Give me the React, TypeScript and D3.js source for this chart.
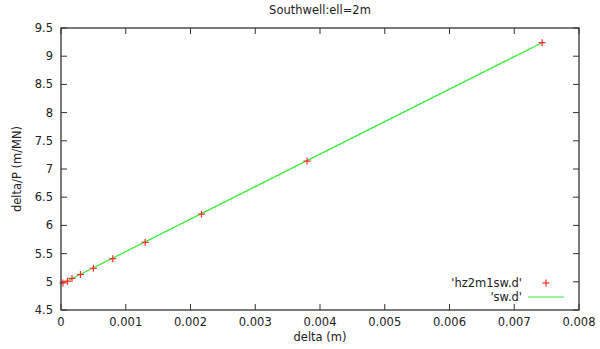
import React from 'react';
import * as d3 from 'd3';

// measured points (hz2m1sw.d)
const deltaVals = [0.00003, 0.0001, 0.00017, 0.0003, 0.0005, 0.0008, 0.0013, 0.00217, 0.0038, 0.00743];
const ratioVals = [4.98, 5.01, 5.06, 5.13, 5.24, 5.41, 5.7, 6.2, 7.14, 9.24];

// fitted line (sw.d)
const lineDelta = [0, 0.00743];
const lineRatio = [4.96, 9.24];

const xTicks = [0, 0.001, 0.002, 0.003, 0.004, 0.005, 0.006, 0.007, 0.008];
const yTicks = [4.5, 5, 5.5, 6, 6.5, 7, 7.5, 8, 8.5, 9, 9.5];

const W = 600;
const H = 349;
const margin = { top: 28, right: 21, bottom: 39, left: 61 };
const FONT = '"DejaVu Sans", sans-serif';

export default function App() {
  const x = d3.scaleLinear().domain([0, 0.008]).range([margin.left, W - margin.right]);
  const y = d3.scaleLinear().domain([4.5, 9.5]).range([H - margin.bottom, margin.top]);
  const x0 = x.range()[0], x1 = x.range()[1];
  const y0 = y.range()[0], y1 = y.range()[1];
  const tick = 6;

  const points = deltaVals.map((d, i) => ({ d, r: ratioVals[i] }));
  const fit = lineDelta.map((d, i) => ({ d, r: lineRatio[i] }));
  const line = d3.line<{ d: number; r: number }>().x(p => x(p.d)).y(p => y(p.r));

  const axisColor = '#333';
  const red = '#ff2a2a';
  const green = '#33ee33';
  const plus = (cx: number, cy: number, s: number, key?: number) => (
    <g key={key} stroke={red} strokeWidth={1.2}>
      <line x1={cx - s} x2={cx + s} y1={cy} y2={cy} />
      <line x1={cx} x2={cx} y1={cy - s} y2={cy + s} />
    </g>
  );

  return (
    <svg width={W} height={H} style={{ position: 'absolute', left: 0, top: 0, background: '#fff' }}
      fontFamily={FONT} fontSize={11.5} fill="#222">
      <rect width={W} height={H} fill="#fff" />
      <text x={(x0 + x1) / 2} y={14} textAnchor="middle">Southwell:ell=2m</text>

      {/* ticks, mirrored on all four sides */}
      <g stroke={axisColor} strokeWidth={1}>
        {xTicks.map(t => (
          <g key={'xt' + t}>
            <line x1={x(t)} x2={x(t)} y1={y0} y2={y0 - tick} />
            <line x1={x(t)} x2={x(t)} y1={y1} y2={y1 + tick} />
          </g>
        ))}
        {yTicks.map(t => (
          <g key={'yt' + t}>
            <line x1={x0} x2={x0 + tick} y1={y(t)} y2={y(t)} />
            <line x1={x1} x2={x1 - tick} y1={y(t)} y2={y(t)} />
          </g>
        ))}
      </g>

      {xTicks.map(t => (
        <text key={'xl' + t} x={x(t)} y={y0 + 16} textAnchor="middle">{t === 0 ? '0' : d3.format('.3f')(t)}</text>
      ))}
      {yTicks.map(t => (
        <text key={'yl' + t} x={x0 - 8} y={y(t) + 4} textAnchor="end">{String(t)}</text>
      ))}

      <text x={(x0 + x1) / 2} y={H - 8} textAnchor="middle">delta (m)</text>
      <text transform={`translate(21,${(y0 + y1) / 2}) rotate(-90)`} textAnchor="middle">delta/P (m/MN)</text>

      <path d={line(fit) || ''} fill="none" stroke={green} strokeWidth={1.2} />
      {points.map((p, i) => plus(x(p.d), y(p.r), 3.5, i))}

      {/* legend */}
      <text x={522} y={287} textAnchor="end">'hz2m1sw.d'</text>
      {plus(546, 283, 3.5)}
      <text x={522} y={301} textAnchor="end">'sw.d'</text>
      <line x1={528} x2={564} y1={297} y2={297} stroke={green} strokeWidth={1.2} />

      <rect x={x0} y={y1} width={x1 - x0} height={y0 - y1} fill="none" stroke={axisColor} strokeWidth={1.3} />
    </svg>
  );
}
